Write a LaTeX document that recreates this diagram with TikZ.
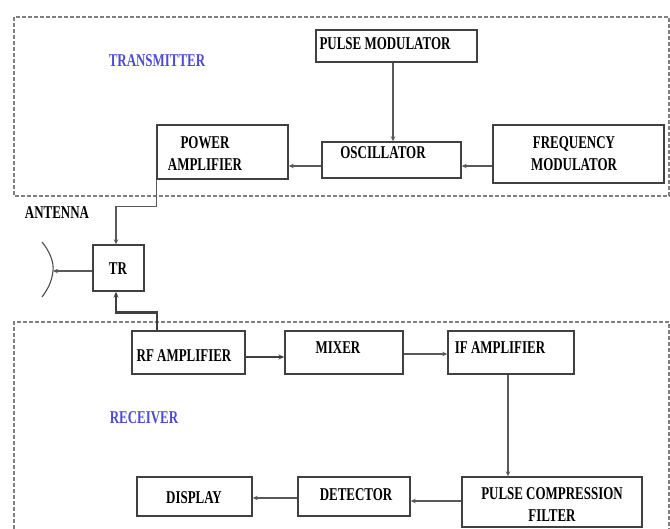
\documentclass[tikz,border=0pt]{standalone}
\usepackage{fontspec}
\setmainfont{Liberation Serif}
\newfontfamily\lblfont[FakeStretch=0.72]{Liberation Serif}
\usetikzlibrary{arrows.meta}
\definecolor{labelblue}{RGB}{75,75,215}
\tikzset{
  box/.style={draw=black!75, line width=1.4pt, fill=white, inner sep=0pt},
  txt/.style={font=\lblfont\fontsize{18}{22}\selectfont\bfseries, align=center, inner sep=0pt},
  sect/.style={font=\lblfont\fontsize{18}{20}\selectfont\bfseries, text=labelblue, inner sep=0pt},
  region/.style={draw=black!50, line width=2.6pt, dash pattern=on 4pt off 2pt},
  conn/.style={draw=black!65, line width=1.3pt, -{Stealth[length=5pt,width=4.5pt]}},
  thickconn/.style={draw=black!75, line width=2.6pt, -{Stealth[length=6pt,width=5pt]}}
}
\begin{document}
\begin{tikzpicture}[x=1pt,y=-1pt]
\useasboundingbox (0,0) rectangle (670,529);
% section outlines
\draw[region] (14,17) rectangle (669,196);
\draw[region] (14,529) -- (14,322) -- (669,322) -- (669,529);
\node[sect] (ltx) at (157,61) {TRANSMITTER};
\node[sect] (lrx) at (144,418) {RECEIVER};
\node[txt] (lant) at (57,213) {ANTENNA};
% boxes
\node[box, minimum width=161, minimum height=32] (pm) at (396.5,46) {};
\node[box, minimum width=139, minimum height=36] (osc) at (391.5,160) {};
\node[box, minimum width=131, minimum height=54] (pa) at (222.5,152) {};
\node[box, minimum width=171, minimum height=58] (fm) at (578.5,154) {};
\node[box, minimum width=51, minimum height=46] (tr) at (118.5,268) {};
\node[box, minimum width=113, minimum height=43] (rf) at (188.5,352.5) {};
\node[box, minimum width=118, minimum height=43] (mx) at (344,352.5) {};
\node[box, minimum width=126, minimum height=43] (ifa) at (511,352.5) {};
\node[box, minimum width=180, minimum height=50] (pcf) at (552,502) {};
\node[box, minimum width=112, minimum height=39] (det) at (354,496.5) {};
\node[box, minimum width=115, minimum height=39] (disp) at (194.5,496.5) {};
% texts
\node[txt] (tpm) at (385,44) {PULSE MODULATOR};
\node[txt] (tosc) at (383,153) {OSCILLATOR};
\node[txt] (tpa) at (205,154) {POWER\\AMPLIFIER};
\node[txt] (tfm) at (574,154) {FREQUENCY\\MODULATOR};
\node[txt] (ttr) at (118,269) {TR};
\node[txt] (trf) at (184,356) {RF AMPLIFIER};
\node[txt] (tmx) at (338,348) {MIXER};
\node[txt] (tifa) at (500,348) {IF AMPLIFIER};
\node[txt] (tpcf) at (552,505) {PULSE COMPRESSION\\FILTER};
\node[txt] (tdet) at (356,495) {DETECTOR};
\node[txt] (tdisp) at (194,498) {DISPLAY};
% antenna
\coordinate (ant) at (53,271);
\draw[black!70, line width=1.1pt] (42,242) .. controls (50,252) and (54,262) .. (ant) .. controls (52,281) and (48,289) .. (42,297);
% connectors
\draw[conn] ([xshift=-3.5pt]pm.south) -- ([xshift=1.5pt]osc.north);
\draw[conn] ([yshift=-12pt]fm.west) -- ([yshift=-6pt]osc.east);
\draw[conn] ([yshift=-6pt]osc.west) -- ([yshift=-14pt]pa.east);
\draw[conn] (pa.south west) -- ++(0,27) -| ([xshift=-2.5pt]tr.north);
\draw[thickconn] ([xshift=-31.5pt]rf.north) -- ++(0,-18) -| ([xshift=-2.5pt]tr.south);
\draw[conn] ([yshift=-3pt]tr.west) -- (ant);
\draw[thickconn] ([yshift=-4.5pt]rf.east) -- ([yshift=-4.5pt]mx.west);
\draw[conn] ([yshift=-1.5pt]mx.east) -- ([yshift=-1.5pt]ifa.west);
\draw[conn] ([xshift=-3pt]ifa.south) -- ([xshift=-44pt]pcf.north);
\draw[conn] ([yshift=1pt]pcf.west) -- ([yshift=-4.5pt]det.east);
\draw[conn] ([yshift=-1.5pt]det.west) -- ([yshift=-1.5pt]disp.east);
\end{tikzpicture}
\end{document}
